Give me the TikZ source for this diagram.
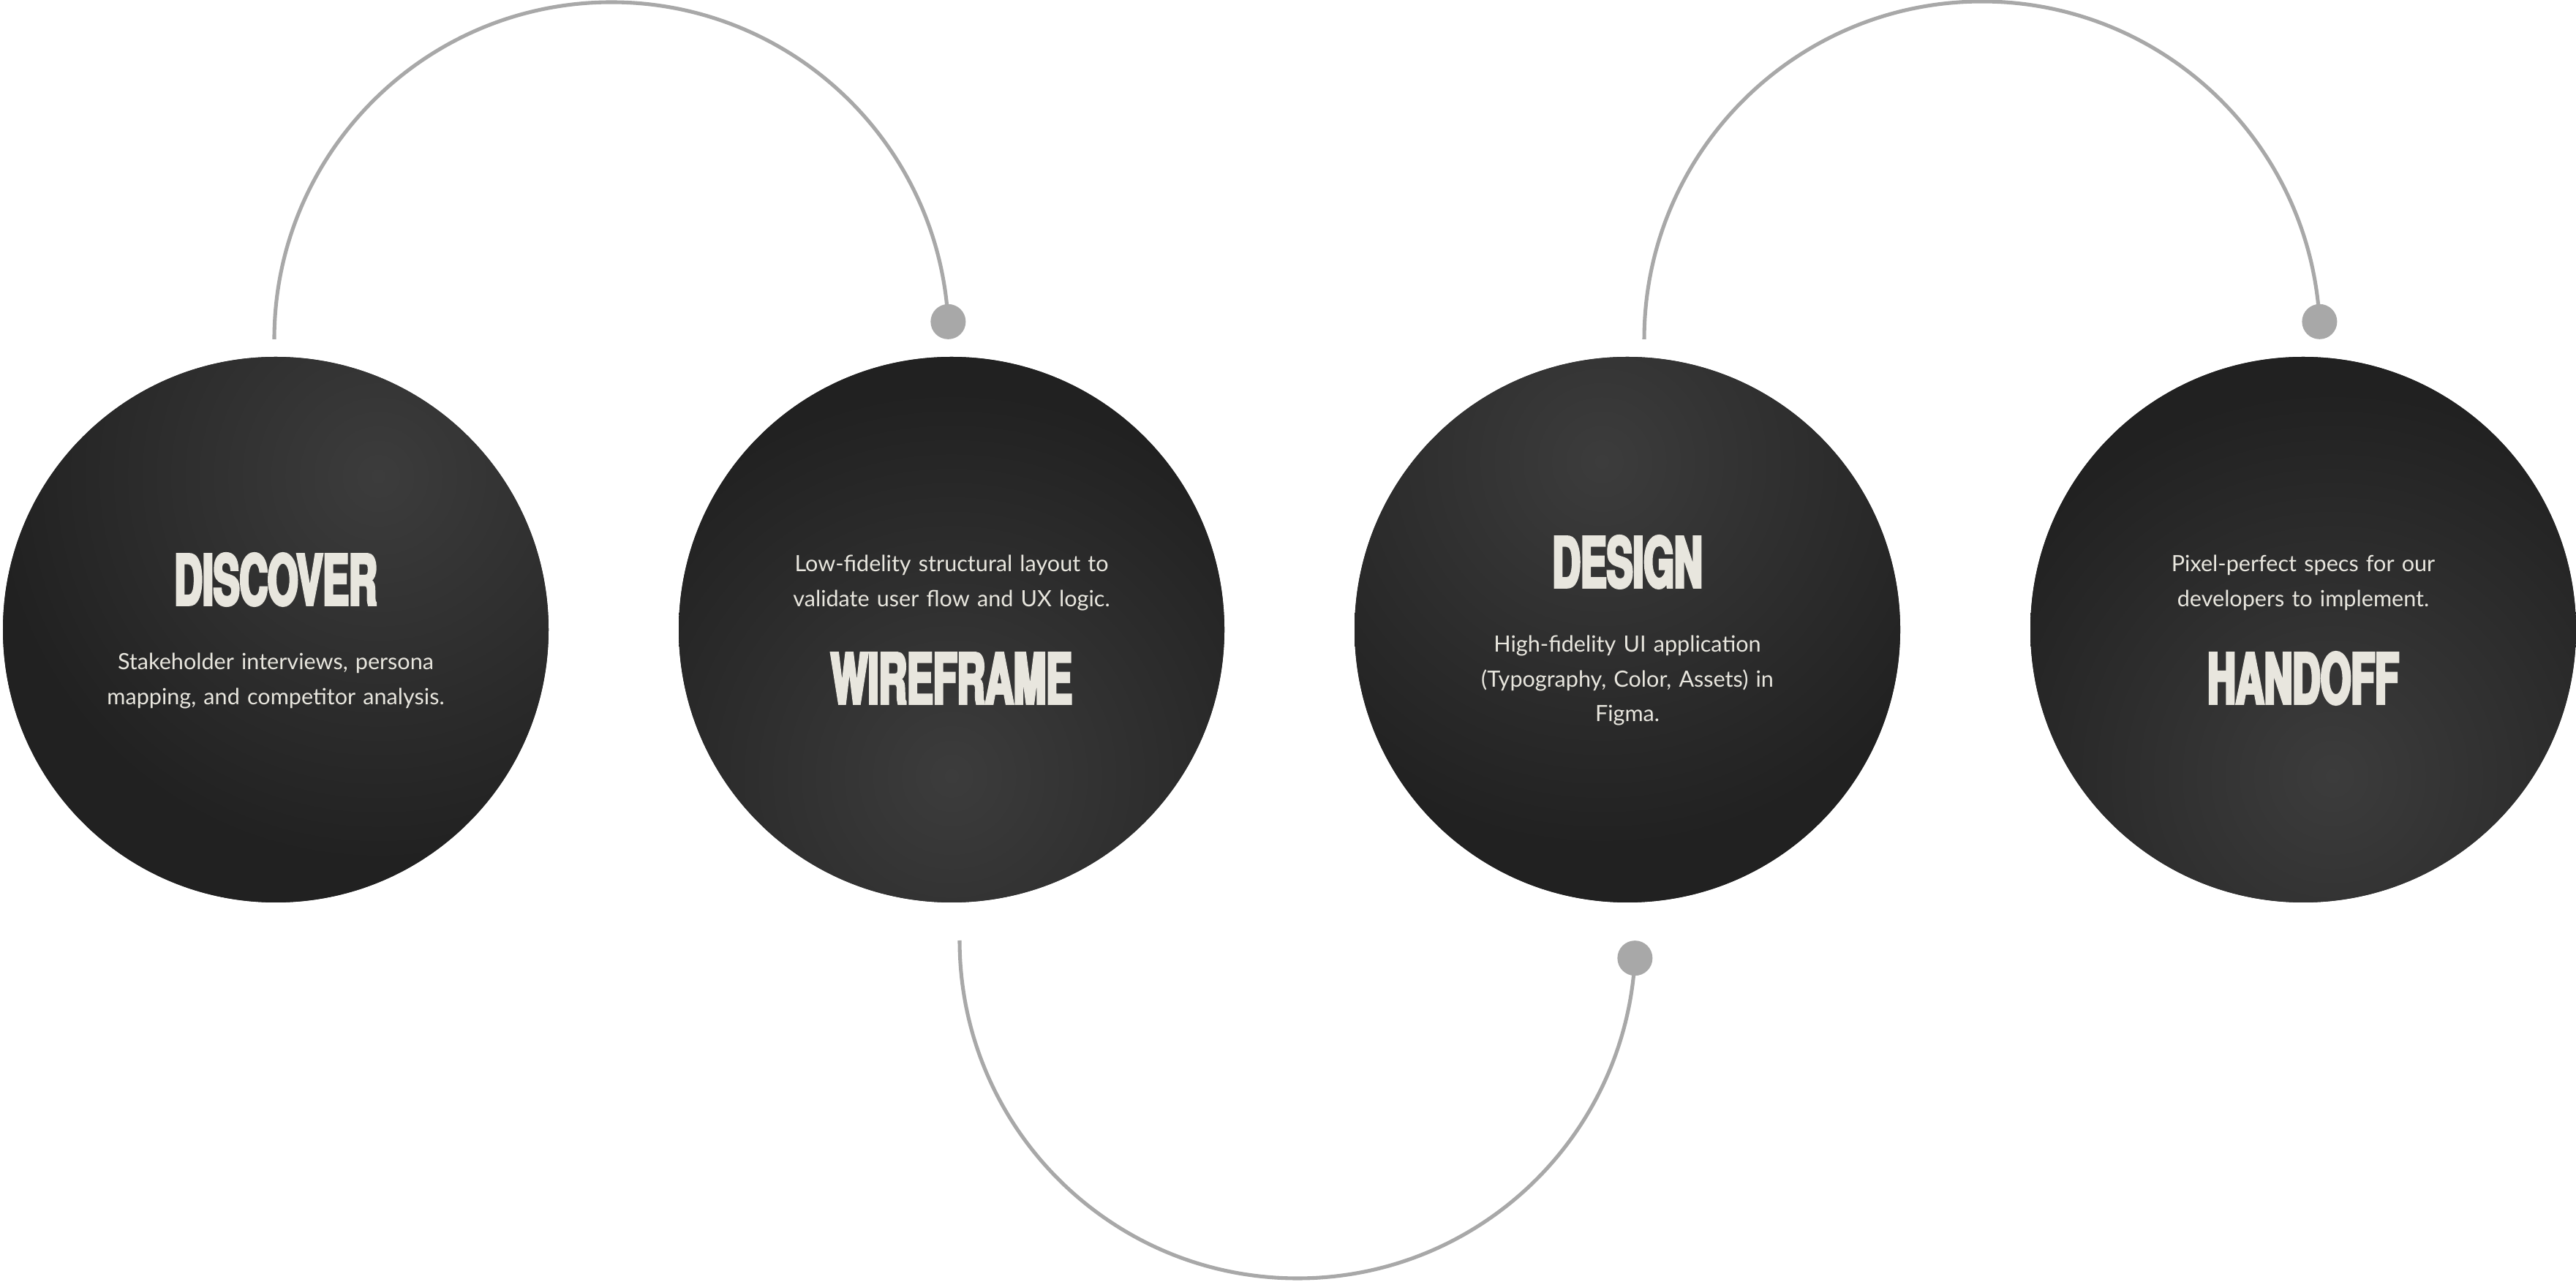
\documentclass[tikz,border=0pt]{standalone}
\usepackage{fontspec}
\usetikzlibrary{positioning}

\newfontfamily\headfont{TeX Gyre Heros}[FakeStretch=0.565, BoldFeatures={FakeBold=4}]
\newfontfamily\bodyfont{Lato}

\definecolor{linkgray}{RGB}{168,168,168}
\definecolor{discbase}{RGB}{33,33,33}
\definecolor{discglow}{RGB}{60,60,60}
\definecolor{inkwhite}{RGB}{232,230,222}

% soft sheen inside every disc
\pgfdeclareradialshading{discsheen}{\pgfpoint{0bp}{0bp}}{%
    color(0bp)=(discglow); color(11bp)=(discbase); color(50bp)=(discbase)}

\begin{document}
\begin{tikzpicture}[
            node distance = 9.24cm, % centre to centre of the discs
            link/.style = {draw=linkgray, line width=1.45pt},
            knob/.style = {circle, fill=linkgray, inner sep=0pt, minimum size=4.8mm},
            glow/.style = {path picture={\shade[shading=discsheen]
                ([shift={(#1)}]path picture bounding box.center) circle (12cm);}},
            head/.style = {text=inkwhite, anchor=base, inner sep=0pt,
                font=\headfont\bfseries\fontsize{26.95pt}{30pt}\selectfont},
            blurb/.style = {text=inkwhite, anchor=base, inner sep=0pt, text width=5.6cm,
                align=center, font=\bodyfont\fontsize{8.7pt}{13.5pt}\selectfont}
        ]

        \tikzstyle{disc}=[
            circle,
            fill = discbase,
            minimum size = 7.46cm,
            inner sep = 0pt,
            outer sep = 0pt
        ]

        \useasboundingbox (0,0) rectangle (35.22,17.52);
        \fill[white] (0,0) rectangle (35.22,17.52);

        \node[disc, glow={1.4,2.1}] (discover) at (3.77,8.91) {};
        \node[disc, glow={0,-2}] (wireframe) [right of=discover] {};
        \node[disc, glow={-0.35,2.3}] (design) [right of=wireframe] {};
        \node[disc, glow={0.4,-2}] (handoff) [right of=design] {};

        \node[head] (dtitle) at ([yshift=3.4mm]discover.center) {DISCOVER};
        \node[blurb] (dtext) at ([yshift=-5.5mm]discover.center)
            {Stakeholder interviews, persona\\mapping, and competitor analysis.};

        \node[blurb] (wtext) at ([yshift=7.9mm]wireframe.center)
            {Low-fidelity structural layout to\\validate user flow and UX logic.};
        \node[head] (wtitle) at ([yshift=-10.1mm]wireframe.center) {WIREFRAME};

        \node[head] (gtitle) at ([yshift=5.8mm]design.center) {DESIGN};
        \node[blurb] (gtext) at ([yshift=-3.1mm]design.center)
            {High-fidelity UI application\\(Typography, Color, Assets) in\\Figma.};

        \node[blurb] (htext) at ([yshift=7.9mm]handoff.center)
            {Pixel-perfect specs for our\\developers to implement.};
        \node[head] (htitle) at ([yshift=-10.1mm]handoff.center) {HANDOFF};

        \coordinate (s1) at ([shift={(-0.02,3.97)}]discover.center);
        \coordinate (s2) at ([shift={(0.11,-4.25)}]wireframe.center);
        \coordinate (s3) at ([shift={(0.23,3.97)}]design.center);

        \draw[link] (s1) arc[start angle=180, end angle=3, radius=4.61] node[knob] (k1) {};
        \draw[link] (s2) arc[start angle=180, end angle=357, radius=4.62] node[knob] (k2) {};
        \draw[link] (s3) arc[start angle=180, end angle=3, radius=4.62] node[knob] (k3) {};

  \end{tikzpicture}
\end{document}
